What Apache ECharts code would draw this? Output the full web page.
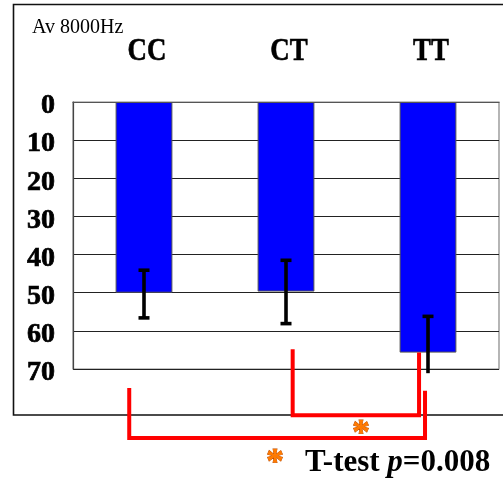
<!DOCTYPE html>
<html>
<head>
<meta charset="utf-8">
<script src="https://cdn.jsdelivr.net/npm/echarts@6/dist/echarts.min.js"></script>
<style>html,body{margin:0;padding:0;background:#fff}#c{width:503px;height:479px}</style>
</head>
<body>
<div id="c"></div>
<script>
// ---- data ----
const categories = ['CC', 'CT', 'TT'];
const barValues = [50, 49.7, 65.7];
const errTop = [44.1, 41.5, 56.2];
const errBottom = [56.6, 58.1, 71.1];
const errBottomCap = [1, 1, 0];
const yMin = 0, yMax = 70, yStep = 10;
// significance brackets (x in category units, y in axis values)
const brLeftX = [1.047, -0.104];
const brRightX = [1.937, 1.979];
const brLeftTop = [64.8, 75.0];
const brRightTop = [65.7, 75.7];
const brBase = [82.1, 88.1];
const starX = [1.528];
const starY = [85.4];
const titleText = 'Av 8000Hz';

const SERIF = '"Liberation Serif","Times New Roman",serif';
const chart = echarts.init(document.getElementById('c'));

function catCoord(api, xf, v) {
  const i = Math.round(xf);
  const p = api.coord([i, v]);
  const bw = api.size([1, 0])[0];
  return [p[0] + (xf - i) * bw, p[1]];
}

const starStyle = { text: '*', font: 'bold 36px ' + SERIF, fill: '#ff7a00', stroke: '#b84a00', lineWidth: 0.8, align: 'center', verticalAlign: 'middle' };

chart.setOption({
  animation: false,
  grid: { left: 73, top: 102, right: 4, bottom: 110, show: true, borderColor: '#858585', borderWidth: 1.2 },
  xAxis: {
    type: 'category', data: categories, position: 'top',
    axisLine: { lineStyle: { color: '#555', width: 1.2 } },
    axisTick: { inside: true, length: 11, lineStyle: { color: '#333' } },
    axisLabel: { show: false }
  },
  yAxis: {
    type: 'value', inverse: true, min: yMin, max: yMax, interval: yStep,
    axisLine: { show: true, lineStyle: { color: '#444', width: 1.2 } },
    axisTick: { show: false },
    splitLine: { lineStyle: { color: '#222', width: 1 } },
    axisLabel: { fontFamily: SERIF, fontWeight: 'bold', fontSize: 28, color: '#000', textBorderColor: '#000', textBorderWidth: 0.7, margin: 18, verticalAlign: 'top', lineHeight: 28, padding: [-10, 0, 0, 0] }
  },
  graphic: [
    { type: 'rect', z: 0, shape: { x: 13.5, y: 4.5, width: 530, height: 410.5 }, style: { fill: 'none', stroke: '#111', lineWidth: 1.6 } },
    { type: 'text', z: 5, x: 32, y: 28, style: { text: titleText, font: '20px ' + SERIF, fill: '#000', verticalAlign: 'middle' } },
    { type: 'text', z: 5, x: 275, y: 464, style: starStyle },
    { type: 'text', z: 5, x: 305, y: 463, style: { text: '{a|T-test }{b|p}{a|=0.008}', rich: { a: { font: 'bold 31px ' + SERIF, fill: '#000' }, b: { font: 'italic bold 31px ' + SERIF, fill: '#000' } }, verticalAlign: 'middle' } }
  ],
  series: [
    {
      type: 'bar', data: barValues, barWidth: '40%', z: 2,
      itemStyle: { color: '#0000ff', borderColor: '#555', borderWidth: 1 }
    },
    {
      type: 'custom', z: 4,
      data: categories.map((c, i) => [i, errTop[i], errBottom[i], errBottomCap[i]]),
      renderItem: function (params, api) {
        const i = api.value(0);
        const t = api.coord([i, api.value(1)]);
        const b = api.coord([i, api.value(2)]);
        const hw = 5.5;
        const st = { stroke: '#000', lineWidth: 3.6 };
        const ch = [
          { type: 'line', shape: { x1: t[0], y1: t[1], x2: b[0], y2: b[1] }, style: st },
          { type: 'line', shape: { x1: t[0] - hw, y1: t[1], x2: t[0] + hw, y2: t[1] }, style: st }
        ];
        if (api.value(3)) ch.push({ type: 'line', shape: { x1: b[0] - hw, y1: b[1], x2: b[0] + hw, y2: b[1] }, style: st });
        return { type: 'group', children: ch };
      }
    },
    {
      type: 'custom', z: 5, clip: false,
      data: brLeftX.map((x, k) => [x, brRightX[k], brLeftTop[k], brRightTop[k], brBase[k]]),
      renderItem: function (params, api) {
        const lt = catCoord(api, api.value(0), api.value(2));
        const lb = catCoord(api, api.value(0), api.value(4));
        const rt = catCoord(api, api.value(1), api.value(3));
        const rb = catCoord(api, api.value(1), api.value(4));
        return {
          type: 'polyline',
          shape: { points: [lt, lb, rb, rt] },
          style: { stroke: '#ff0000', lineWidth: 4, fill: 'none', lineJoin: 'miter' }
        };
      }
    },
    {
      type: 'custom', z: 6, clip: false,
      data: starX.map((x, k) => [x, starY[k]]),
      renderItem: function (params, api) {
        const p = catCoord(api, api.value(0), api.value(1));
        return { type: 'text', x: p[0], y: p[1] + 7, style: starStyle };
      }
    },
    {
      type: 'custom', z: 6, clip: false,
      data: categories.map((c, i) => [i]),
      renderItem: function (params, api) {
        const i = api.value(0);
        const p = api.coord([i, yMin]);
        return { type: 'text', x: p[0] + 3, y: p[1] - 50, scaleX: 0.84, style: { text: categories[i], font: 'bold 32px ' + SERIF, fill: '#000', stroke: '#000', lineWidth: 0.6, align: 'center', verticalAlign: 'middle' } };
      }
    }
  ]
});
</script>
</body>
</html>
